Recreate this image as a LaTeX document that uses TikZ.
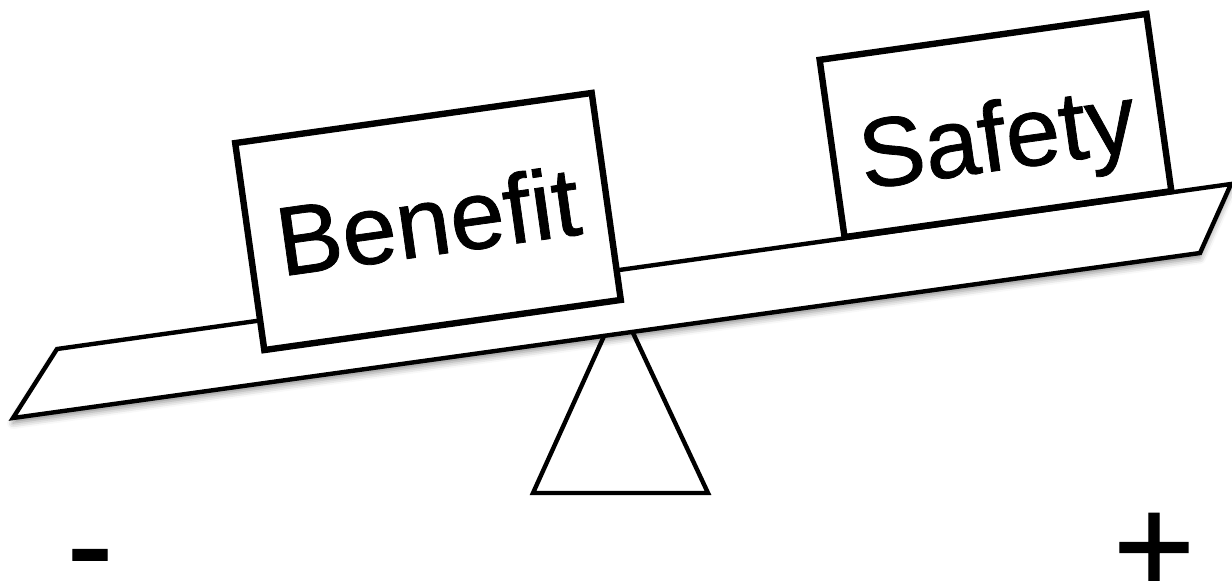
\documentclass[tikz,border=0pt]{standalone}
\usepackage{fontspec}
\newfontfamily\signfont[FakeBold=0.8]{Liberation Sans}
\usetikzlibrary{shadows.blur}
\begin{document}
\begin{tikzpicture}[x=0.5pt, y=-0.5pt,
    weight/.style = {draw, line width=3.2pt, fill=white, inner sep=0pt, rotate=8, text depth=0pt, font=\signfont\fontsize{49}{52}\selectfont},
    sign/.style = {anchor=base, inner sep=0pt, font=\signfont\fontsize{70}{72}\selectfont}]
    \useasboundingbox (0,0) rectangle (1232,580);
    % fulcrum
    \draw[line width=2.2pt] (619,303) -- (533,493) -- (708,493) -- cycle;
    % plank
    \draw[line width=2.2pt, fill=white, blur shadow={shadow xshift=0pt, shadow yshift=-2.5pt, shadow blur radius=3pt, shadow opacity=45}] (57,349) -- (1231,184) -- (1200,253) -- (13,418) -- cycle;
    \node[weight, minimum width=180pt, minimum height=104.5pt, text height=34pt] (benefit) at (428,221.5) {Benefit};
    \node[weight, minimum width=165pt, minimum height=89.5pt, text height=45pt] (safety) at (995.5,125.5) {Safety};
    \node[sign] (minus) at (90,592) {-};
    \node[sign] (plus) at (1154,594) {+};
\end{tikzpicture}
\end{document}
